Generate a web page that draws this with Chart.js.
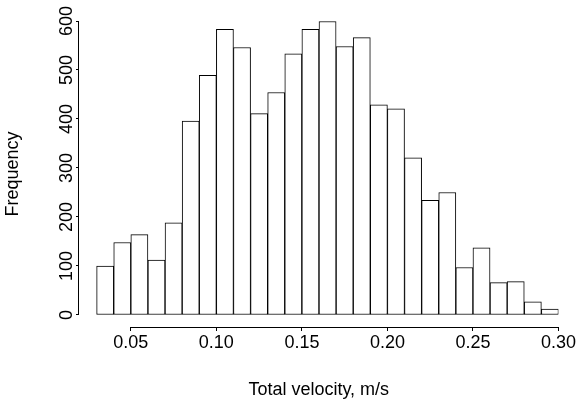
<!DOCTYPE html>
<html>
<head>
<meta charset="utf-8">
<script src="https://cdn.jsdelivr.net/npm/chart.js@4.4.1/dist/chart.umd.min.js"></script>
<style>
  body { margin: 0; background: #fff; }
  #wrap { width: 577px; height: 401px; }
</style>
</head>
<body>
<div id="wrap"><canvas id="myChart"></canvas></div>
<script>
// histogram bins (left edge, m/s), width 0.01
var binStarts = [0.03, 0.04, 0.05, 0.06, 0.07, 0.08, 0.09, 0.10, 0.11, 0.12, 0.13, 0.14, 0.15, 0.16,
                 0.17, 0.18, 0.19, 0.20, 0.21, 0.22, 0.23, 0.24, 0.25, 0.26, 0.27, 0.28, 0.29];
var counts = [100, 148, 164, 112, 188, 396, 489, 583, 546, 411, 454, 533, 583, 599,
              548, 566, 429, 421, 321, 234, 250, 97, 137, 66, 68, 27, 12];
var binWidth = 0.01;
var xTicks = [0.05, 0.10, 0.15, 0.20, 0.25, 0.30];
var yTicks = [0, 100, 200, 300, 400, 500, 600];

var font = 'Liberation Sans, Arial, Helvetica, sans-serif';

var points = binStarts.map(function (b, i) {
    return { x: b + binWidth / 2, y: counts[i] };
});

// R style detached axes: lines only between first and last tick
var axisLines = {
    id: 'axisLines',
    afterDraw: function (chart) {
        var c = chart.ctx, x = chart.scales.x, y = chart.scales.y, a = chart.chartArea;
        c.save();
        c.strokeStyle = '#000';
        c.lineWidth = 1;
        c.beginPath();
        var lx = Math.round(a.left) - 0.5;
        c.moveTo(lx, y.getPixelForValue(yTicks[0]));
        c.lineTo(lx, y.getPixelForValue(yTicks[yTicks.length - 1]));
        var by = Math.round(a.bottom) + 0.5;
        c.moveTo(x.getPixelForValue(xTicks[0]), by);
        c.lineTo(x.getPixelForValue(xTicks[xTicks.length - 1]), by);
        c.stroke();
        c.restore();
    }
};

new Chart(document.getElementById('myChart'), {
    type: 'bar',
    data: {
        datasets: [{
            label: 'Frequency',
            data: points,
            backgroundColor: '#fff',
            borderColor: '#000',
            borderWidth: 1,
            borderSkipped: false,
            barPercentage: 1,
            categoryPercentage: 1
        }]
    },
    options: {
        responsive: true,
        maintainAspectRatio: false,
        animation: false,
        layout: { padding: { top: 21, right: 18, left: 0, bottom: 0 } },
        plugins: {
            legend: { display: false },
            tooltip: { enabled: false }
        },
        scales: {
            x: {
                type: 'linear',
                min: 0.0197,
                max: 0.30,
                offset: false,
                grid: { offset: false, drawOnChartArea: false, color: '#000', tickLength: 4 },
                border: { display: false },
                afterBuildTicks: function (s) { s.ticks = xTicks.map(function (v) { return { value: v }; }); },
                afterFit: function (s) { s.height = 74; },
                ticks: {
                    maxRotation: 0,
                    padding: 1,
                    color: '#000',
                    font: { family: font, size: 18 },
                    callback: function (v) { return v.toFixed(2); }
                },
                title: {
                    display: true,
                    text: 'Total velocity, m/s',
                    color: '#000',
                    font: { family: font, size: 18 },
                    padding: { top: 0, bottom: 0 }
                }
            },
            y: {
                min: -24.5,
                max: 600,
                grid: { drawOnChartArea: false, color: '#000', tickLength: 3 },
                border: { display: false },
                afterBuildTicks: function (s) { s.ticks = yTicks.map(function (v) { return { value: v }; }); },
                afterFit: function (s) { s.width = 79; },
                ticks: {
                    minRotation: 90,
                    crossAlign: 'center',
                    padding: -6.5,
                    color: '#000',
                    font: { family: font, size: 18 }
                },
                title: {
                    display: true,
                    text: 'Frequency',
                    color: '#000',
                    font: { family: font, size: 18 },
                    padding: { top: 2.5, bottom: 0 }
                }
            }
        }
    },
    plugins: [axisLines]
});
</script>
</body>
</html>
